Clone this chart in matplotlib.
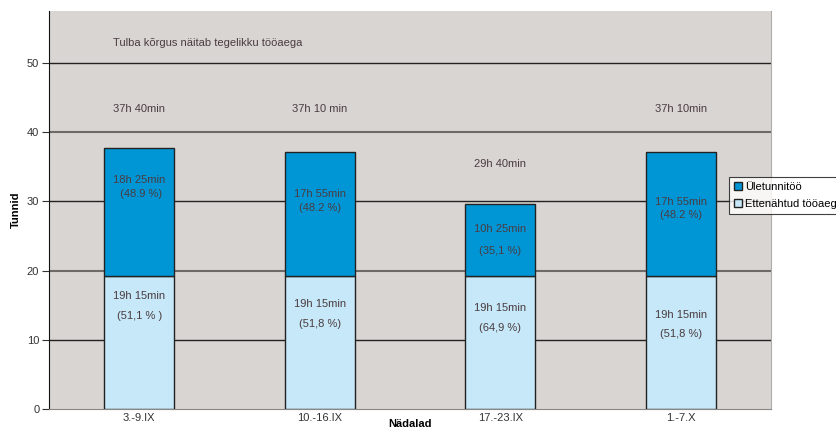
import numpy as np
import matplotlib.pyplot as plt

plt.rcParams['font.family'] = ['Liberation Sans', 'DejaVu Sans']

weeks = ['3.-9.IX', '10.-16.IX', '17.-23.IX', '1.-7.X']
regular = [19 + 15/60, 19 + 15/60, 19 + 15/60, 19 + 15/60]
overtime = [18 + 25/60, 17 + 55/60, 10 + 25/60, 17 + 55/60]

total_labels = ['37h 40min', '37h 10 min', '29h 40min', '37h 10min']
over_time_txt = ['18h 25min', '17h 55min', '10h 25min', '17h 55min']
over_pct_txt = [' (48.9 %)', '(48.2 %)', '(35,1 %)', '(48.2 %)']
reg_time_txt = ['19h 15min', '19h 15min', '19h 15min', '19h 15min']
reg_pct_txt = ['(51,1 % )', '(51,8 %)', '(64,9 %)', '(51,8 %)']

c_over = '#0096d6'
c_reg = '#c6e8f8'
txt = '#4a3c40'

fig = plt.figure(figsize=(8.37, 4.30), dpi=100)
ax = fig.add_axes([49/837, 21/430, 722/837, 398/430])
ax.set_facecolor('#d9d5d2')

x = np.arange(len(weeks)) + 0.5
w = 0.39
ax.bar(x, regular, w, color=c_reg, edgecolor='#222222', linewidth=1, zorder=3, label='Ettenähtud tööaeg')
ax.bar(x, overtime, w, bottom=regular, color=c_over, edgecolor='#222222', linewidth=1, zorder=3, label='Ületunnitöö')

ax.set_xlim(0, 4)
ax.set_ylim(0, 57.5)
ax.set_yticks([0, 10, 20, 30, 40, 50])
ax.set_xticks(x)
ax.set_xticklabels(weeks)
ax.tick_params(axis='x', length=0, labelsize=8, labelcolor='#333333', pad=3)
ax.tick_params(axis='y', length=5, labelsize=8, labelcolor='#333333', color='#333333', pad=2)

for yv in [10, 30, 50]:
    ax.axhline(yv, color='#222222', linewidth=1, zorder=1)
for yv in [20, 40]:
    ax.axhline(yv, color='#6e6a68', linewidth=1.5, zorder=1)

ax.spines['left'].set_color('#111111')
ax.spines['bottom'].set_color('#8a8684')
ax.spines['right'].set_color('#b0acaa')
ax.spines['top'].set_visible(False)

# text positions (data y) for the annotations
total_y = [43.3, 43.3, 35.4, 43.3]
over_y1 = [33.1, 31.0, 26.0, 29.9]
over_y2 = [31.0, 29.0, 22.8, 28.0]
reg_y1 = [16.3, 15.2, 14.6, 13.6]
reg_y2 = [13.4, 12.3, 11.7, 10.8]
for i in range(len(weeks)):
    ax.text(x[i], total_y[i], total_labels[i], ha='center', va='center', fontsize=8, color=txt, zorder=4)
    ax.text(x[i], over_y1[i], over_time_txt[i], ha='center', va='center', fontsize=8, color=txt, zorder=4)
    ax.text(x[i], over_y2[i], over_pct_txt[i], ha='center', va='center', fontsize=8, color=txt, zorder=4)
    ax.text(x[i], reg_y1[i], reg_time_txt[i], ha='center', va='center', fontsize=8, color=txt, zorder=4)
    ax.text(x[i], reg_y2[i], reg_pct_txt[i], ha='center', va='center', fontsize=8, color=txt, zorder=4)

ax.text(0.355, 52.9, 'Tulba kõrgus näitab tegelikku tööaega', ha='left', va='center', fontsize=8, color=txt)

ax.set_ylabel('Tunnid', fontsize=8, fontweight='bold', labelpad=4)
fig.text(410/837, 1 - 424/430, 'Nädalad', ha='center', va='center', fontsize=8, fontweight='bold')

h, l = ax.get_legend_handles_labels()
leg = fig.legend(h[::-1], l[::-1], loc='upper left', bbox_to_anchor=(729/837, 1 - 177/430),
                 fontsize=8, frameon=True, fancybox=False, edgecolor='#111111',
                 handlelength=0.7, handleheight=0.7, handletextpad=0.3, borderpad=0.45,
                 labelspacing=0.65, borderaxespad=0)
leg.get_frame().set_linewidth(0.8)

fig.savefig('out.png', dpi=100)
